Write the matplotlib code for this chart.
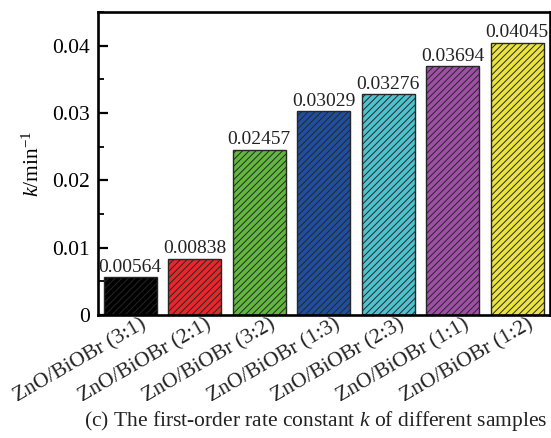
import matplotlib
matplotlib.use('Agg')
import matplotlib.pyplot as plt
import matplotlib.ticker as mticker
import matplotlib.transforms as mtransforms

plt.rcParams['font.family'] = 'Liberation Serif'
plt.rcParams['mathtext.fontset'] = 'custom'
plt.rcParams['mathtext.rm'] = 'Liberation Serif'
plt.rcParams['mathtext.it'] = 'Liberation Serif:italic'
plt.rcParams['hatch.linewidth'] = 0.7

# data
samples = ['ZnO/BiOBr (3:1)', 'ZnO/BiOBr (2:1)', 'ZnO/BiOBr (3:2)', 'ZnO/BiOBr (1:3)',
           'ZnO/BiOBr (2:3)', 'ZnO/BiOBr (1:1)', 'ZnO/BiOBr (1:2)']
k_values = [0.00564, 0.00838, 0.02457, 0.03029, 0.03276, 0.03694, 0.04045]
k_labels = ['0.00564', '0.00838', '0.02457', '0.03029', '0.03276', '0.03694', '0.04045']
bar_colors = ['#000000', '#e8262b', '#62b83e', '#1f4f9e', '#4ec3cf', '#a04fa6', '#ece43e']

fig = plt.figure(figsize=(5.51, 4.38), dpi=100)
ax = fig.add_axes([98/551, 1-315/438, (549.5-98)/551, (315-12)/438])

x = range(len(samples))
bars = ax.bar(x, k_values, width=0.82, color=bar_colors, edgecolor='#262626',
              linewidth=1.0, hatch='/////')

#value labels on top of bars
for i, (v, lab) in enumerate(zip(k_values, k_labels)):
    ax.text(i, v + 0.0002, lab, ha='center', va='bottom', fontsize=14, color='#222222')

ax.set_xlim(-0.5, 6.5)
ax.set_ylim(0, 0.045)
ax.yaxis.set_major_locator(mticker.FixedLocator([0, 0.01, 0.02, 0.03, 0.04]))
ax.yaxis.set_major_formatter(mticker.FixedFormatter(['0', '0.01', '0.02', '0.03', '0.04']))
ax.yaxis.set_minor_locator(mticker.MultipleLocator(0.005))
ax.tick_params(axis='y', which='major', direction='in', length=7, width=1.6, labelsize=15.5, pad=6)
ax.tick_params(axis='y', which='minor', direction='in', length=4, width=1.3)
ax.tick_params(axis='x', length=0, labelsize=15.5, pad=0)

ax.set_xticks(list(x))
ax.set_xticklabels(samples, rotation=30, ha='right', rotation_mode='anchor', color='#222222')
shift = mtransforms.ScaledTranslation(0.10, 0, fig.dpi_scale_trans)
for lab in ax.get_xticklabels():
    lab.set_transform(lab.get_transform() + shift)

for s in ax.spines.values():
    s.set_linewidth(1.9)

ax.set_ylabel('$k$/min$^{-1}$', fontsize=15.5, labelpad=6)

#caption
fig.text(316/551, 1-421/438, '(c) The first-order rate constant $k$ of different samples',
         ha='center', va='center', fontsize=15.5, color='#222222')

plt.savefig('out.png', dpi=100)
